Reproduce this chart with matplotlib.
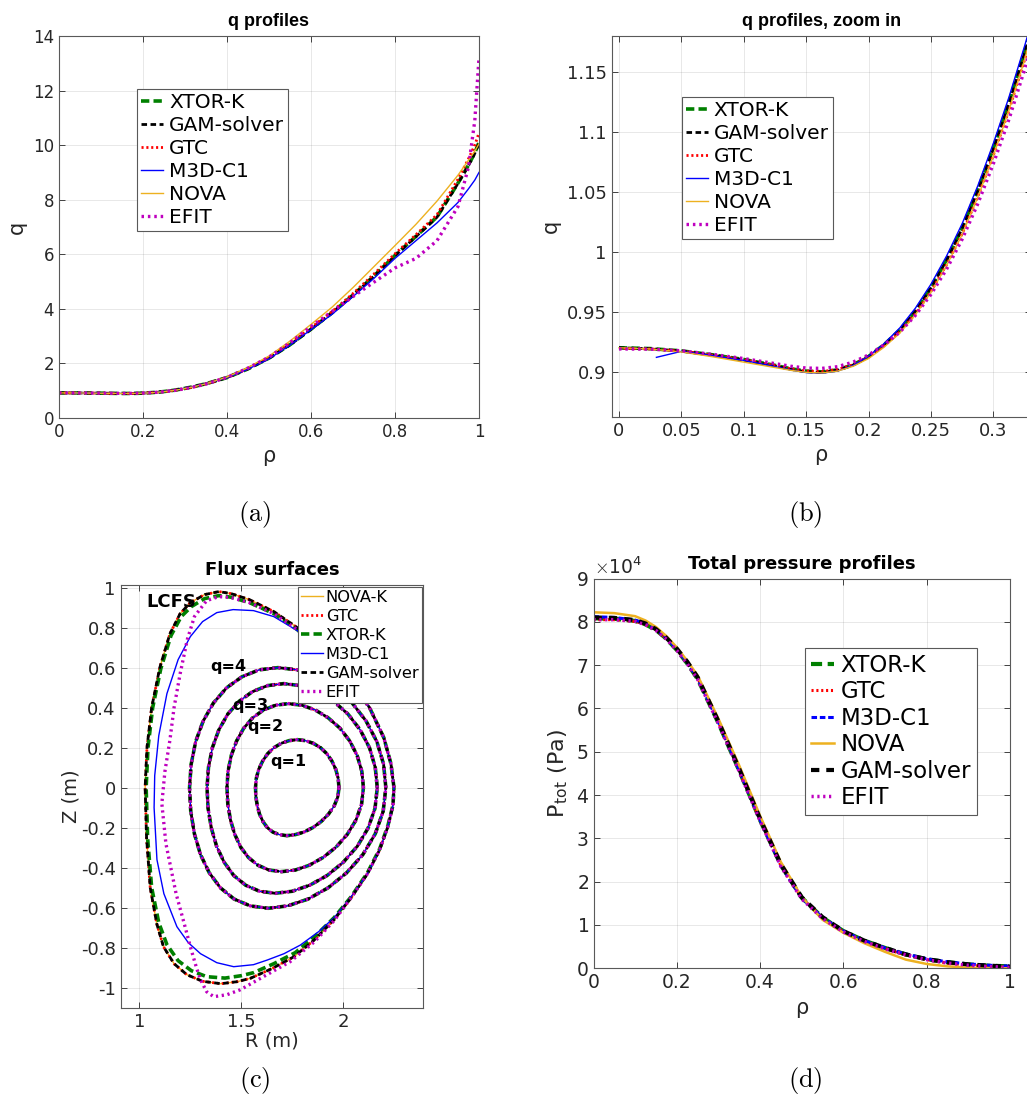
import numpy as np
import matplotlib
matplotlib.use("Agg")
import matplotlib.pyplot as plt
from matplotlib.ticker import FuncFormatter, MultipleLocator

plt.rcParams["font.family"] = ["DejaVu Sans"]
plt.rcParams["mathtext.fontset"] = "cm"
plt.rcParams["axes.unicode_minus"] = False
plt.rcParams["lines.scale_dashes"] = False

W, H = 1027, 1113

# ---------------- q profiles (a), (b) ----------------
rho_q = [0, 0.025, 0.05, 0.075, 0.1, 0.125, 0.1375, 0.15, 0.1625, 0.175, 0.1875, 0.2, 0.2125, 0.225,
         0.2375, 0.25, 0.2625, 0.275, 0.2875, 0.3, 0.3125, 0.325, 0.35, 0.4, 0.45, 0.5, 0.55, 0.6,
         0.65, 0.7, 0.75, 0.8, 0.85, 0.9, 0.95, 0.975, 0.99, 1.0]
q_xtor = [0.9200, 0.9193, 0.9174, 0.9141, 0.9102, 0.9053, 0.9025, 0.9005, 0.8999, 0.9015, 0.9057, 0.9127,
          0.9226, 0.9347, 0.9507, 0.9703, 0.9935, 1.0200, 1.0515, 1.0866, 1.1246, 1.1668, 1.2560, 1.4810,
          1.8020, 2.1950, 2.6850, 3.2550, 3.8550, 4.5050, 5.2050, 5.9550, 6.6600, 7.3700, 8.6100, 9.2700,
          9.7200, 10.1000]
q_gam = [0.9200, 0.9192, 0.9172, 0.9138, 0.9098, 0.9048, 0.9020, 0.9000, 0.8995, 0.9012, 0.9055, 0.9125,
         0.9225, 0.9345, 0.9505, 0.9700, 0.9930, 1.0195, 1.0510, 1.0860, 1.1240, 1.1660, 1.2550, 1.4800,
         1.8000, 2.1900, 2.6800, 3.2500, 3.8500, 4.5000, 5.2000, 5.9500, 6.6500, 7.3600, 8.6000, 9.2500,
         9.7000, 10.0700]
q_gtc = [0.9195, 0.9190, 0.9172, 0.9138, 0.9100, 0.9052, 0.9025, 0.9006, 0.9002, 0.9018, 0.9058, 0.9124,
         0.9218, 0.9332, 0.9482, 0.9670, 0.9892, 1.0150, 1.0460, 1.0805, 1.1180, 1.1600, 1.2500, 1.4850,
         1.8200, 2.2200, 2.7300, 3.3100, 3.9000, 4.5600, 5.2800, 6.0200, 6.7200, 7.4500, 8.7500, 9.5000,
         10.0000, 10.4500]
q_nova = [0.9200, 0.9190, 0.9165, 0.9125, 0.9080, 0.9035, 0.9012, 0.8995, 0.8990, 0.9005, 0.9045, 0.9110,
          0.9205, 0.9322, 0.9475, 0.9662, 0.9885, 1.0145, 1.0455, 1.0800, 1.1180, 1.1600, 1.2550, 1.5000,
          1.8500, 2.2700, 2.8200, 3.4300, 4.0600, 4.7800, 5.5500, 6.3200, 7.1000, 7.9500, 8.9000, 9.4500,
          9.7800, 10.0500]
q_efit = [0.9190, 0.9188, 0.9175, 0.9145, 0.9110, 0.9068, 0.9046, 0.9031, 0.9028, 0.9042, 0.9080, 0.9140,
          0.9225, 0.9330, 0.9470, 0.9645, 0.9855, 1.0105, 1.0400, 1.0735, 1.1105, 1.1520, 1.2450, 1.4900,
          1.8300, 2.2300, 2.7600, 3.3500, 3.9000, 4.4500, 4.9800, 5.5000, 5.8500, 6.5000, 7.7500, 9.2000,
          10.9000, 13.2000]
rho_m3d = [0.03, 0.05, 0.075, 0.1, 0.125, 0.1375, 0.15, 0.1625, 0.175, 0.1875, 0.2, 0.2125, 0.225,
           0.2375, 0.25, 0.2625, 0.275, 0.2875, 0.3, 0.3125, 0.325, 0.35, 0.4, 0.45, 0.5, 0.55, 0.6,
           0.65, 0.7, 0.75, 0.8, 0.85, 0.9, 0.95, 0.975, 0.99, 1.0]
q_m3d = [0.9120, 0.9170, 0.9135, 0.9095, 0.9043, 0.9015, 0.8993, 0.8988, 0.9005, 0.9052, 0.9130, 0.9235,
         0.9365, 0.9530, 0.9730, 0.9965, 1.0235, 1.0550, 1.0905, 1.1290, 1.1715, 1.2620, 1.4750, 1.7900,
         2.1700, 2.6700, 3.2400, 3.8000, 4.4500, 5.1200, 5.8500, 6.5000, 7.1500, 7.9000, 8.4000, 8.7200,
         9.0000]

# ---------------- flux surfaces (c), R and Z in m ----------------
q1_R = [1.980, 1.976, 1.964, 1.945, 1.920, 1.889, 1.853, 1.815, 1.775, 1.735, 1.697, 1.661, 1.630, 1.605,
        1.586, 1.574, 1.570, 1.572, 1.579, 1.590, 1.607, 1.628, 1.655, 1.687, 1.724, 1.765, 1.808, 1.851,
        1.892, 1.928, 1.956, 1.974, 1.980]
q1_Z = [0, 0.047, 0.092, 0.133, 0.170, 0.200, 0.222, 0.235, 0.240, 0.235, 0.222, 0.200, 0.170, 0.133,
        0.092, 0.047, 0, -0.047, -0.092, -0.133, -0.170, -0.200, -0.222, -0.235, -0.240, -0.235, -0.222,
        -0.200, -0.170, -0.133, -0.092, -0.047, 0]
q2_R = [2.100, 2.092, 2.069, 2.033, 1.985, 1.927, 1.864, 1.798, 1.732, 1.668, 1.609, 1.556, 1.512, 1.477,
        1.451, 1.435, 1.430, 1.434, 1.447, 1.468, 1.497, 1.535, 1.582, 1.637, 1.698, 1.765, 1.834, 1.902,
        1.966, 2.021, 2.064, 2.091, 2.100]
q2_Z = [0, 0.082, 0.161, 0.233, 0.297, 0.349, 0.388, 0.412, 0.420, 0.412, 0.388, 0.349, 0.297, 0.233,
        0.161, 0.082, 0, -0.082, -0.161, -0.233, -0.297, -0.349, -0.388, -0.412, -0.420, -0.412, -0.388,
        -0.349, -0.297, -0.233, -0.161, -0.082, 0]
q3_R = [2.168, 2.158, 2.130, 2.084, 2.024, 1.953, 1.874, 1.791, 1.708, 1.629, 1.555, 1.490, 1.434, 1.390,
        1.358, 1.339, 1.332, 1.337, 1.353, 1.379, 1.416, 1.463, 1.522, 1.590, 1.667, 1.750, 1.836, 1.922,
        2.001, 2.070, 2.123, 2.157, 2.168]
q3_Z = [0, 0.101, 0.199, 0.289, 0.368, 0.432, 0.480, 0.510, 0.520, 0.510, 0.480, 0.432, 0.368, 0.289,
        0.199, 0.101, 0, -0.103, -0.202, -0.293, -0.373, -0.439, -0.488, -0.518, -0.528, -0.518, -0.488,
        -0.439, -0.373, -0.293, -0.202, -0.103, 0]
q4_R = [2.210, 2.199, 2.166, 2.113, 2.044, 1.962, 1.871, 1.775, 1.680, 1.588, 1.503, 1.428, 1.364, 1.313,
        1.276, 1.254, 1.246, 1.252, 1.270, 1.300, 1.343, 1.398, 1.465, 1.544, 1.632, 1.728, 1.828, 1.926,
        2.017, 2.097, 2.158, 2.197, 2.210]
q4_Z = [0, 0.117, 0.230, 0.333, 0.424, 0.499, 0.554, 0.589, 0.600, 0.589, 0.554, 0.499, 0.424, 0.333,
        0.230, 0.117, 0, -0.118, -0.231, -0.335, -0.426, -0.501, -0.557, -0.591, -0.603, -0.591, -0.557,
        -0.501, -0.426, -0.335, -0.231, -0.118, 0]

lcfs_gam_R = [2.250, 2.235, 2.200, 2.130, 2.030, 1.900, 1.775, 1.660, 1.540, 1.450, 1.390, 1.320, 1.250, 1.200,
              1.150, 1.100, 1.060, 1.037, 1.028, 1.035, 1.053, 1.085, 1.118, 1.170, 1.233, 1.310, 1.400, 1.480,
              1.545, 1.650, 1.759, 1.860, 1.956, 2.040, 2.120, 2.180, 2.220, 2.245, 2.250]
lcfs_gam_Z = [0.000, 0.120, 0.250, 0.400, 0.540, 0.680, 0.800, 0.880, 0.940, 0.970, 0.980, 0.965, 0.925, 0.870,
              0.770, 0.600, 0.400, 0.200, 0.000, -0.250, -0.500, -0.680, -0.795, -0.880, -0.935, -0.968, -0.980,
              -0.970, -0.953, -0.905, -0.845, -0.760, -0.660, -0.550, -0.430, -0.310, -0.195, -0.090, 0.000]
lcfs_xtor_R = [2.250, 2.235, 2.200, 2.130, 2.030, 1.900, 1.775, 1.660, 1.540, 1.450, 1.390, 1.320, 1.255, 1.205,
               1.155, 1.105, 1.065, 1.042, 1.033, 1.040, 1.060, 1.095, 1.135, 1.190, 1.255, 1.330, 1.420, 1.500,
               1.560, 1.660, 1.765, 1.860, 1.956, 2.040, 2.120, 2.180, 2.220, 2.245, 2.250]
lcfs_xtor_Z = [0.000, 0.120, 0.250, 0.400, 0.540, 0.675, 0.790, 0.870, 0.925, 0.952, 0.960, 0.945, 0.905, 0.855,
               0.760, 0.595, 0.400, 0.200, 0.000, -0.250, -0.500, -0.675, -0.785, -0.865, -0.915, -0.945, -0.952,
               -0.940, -0.925, -0.880, -0.825, -0.745, -0.650, -0.545, -0.425, -0.305, -0.190, -0.088, 0.000]
lcfs_m3d_R = [2.250, 2.235, 2.200, 2.130, 2.030, 1.900, 1.775, 1.660, 1.560, 1.460, 1.380, 1.310, 1.250, 1.190,
              1.135, 1.095, 1.075, 1.072, 1.086, 1.120, 1.184, 1.240, 1.300, 1.380, 1.463, 1.560, 1.627, 1.710,
              1.790, 1.880, 1.956, 2.040, 2.120, 2.180, 2.220, 2.245, 2.250]
lcfs_m3d_Z = [0.000, 0.120, 0.250, 0.400, 0.540, 0.675, 0.785, 0.855, 0.885, 0.890, 0.875, 0.830, 0.755, 0.640,
              0.470, 0.260, 0.060, -0.100, -0.360, -0.530, -0.695, -0.775, -0.830, -0.875, -0.895, -0.885,
              -0.862, -0.830, -0.787, -0.720, -0.650, -0.545, -0.430, -0.310, -0.195, -0.090, 0.000]
lcfs_efit_R = [2.250, 2.235, 2.200, 2.130, 2.030, 1.900, 1.775, 1.660, 1.540, 1.450, 1.390, 1.330, 1.270, 1.235,
               1.200, 1.170, 1.150, 1.125, 1.110, 1.130, 1.180, 1.220, 1.250, 1.280, 1.300, 1.330, 1.365, 1.430,
               1.496, 1.600, 1.740, 1.860, 1.956, 2.040, 2.120, 2.180, 2.220, 2.245, 2.250]
lcfs_efit_Z = [0.000, 0.120, 0.250, 0.400, 0.540, 0.675, 0.790, 0.870, 0.925, 0.950, 0.955, 0.935, 0.855, 0.740,
               0.570, 0.400, 0.240, 0.080, -0.080, -0.280, -0.530, -0.680, -0.795, -0.900, -0.960, -1.020, -1.045,
               -1.035, -1.010, -0.950, -0.870, -0.770, -0.665, -0.550, -0.430, -0.310, -0.195, -0.090, 0.000]
surface_labels = ["LCFS", "q=4", "q=3", "q=2", "q=1"]
label_R = [1.155, 1.435, 1.545, 1.62, 1.73]
label_Z = [0.93, 0.605, 0.41, 0.305, 0.13]

# ---------------- total pressure (d), units of 1e4 Pa ----------------
rho_p = [0, 0.05, 0.1, 0.125, 0.15, 0.175, 0.2, 0.225, 0.25, 0.3, 0.35, 0.4, 0.45, 0.5, 0.55, 0.6,
         0.65, 0.7, 0.75, 0.8, 0.85, 0.9, 0.95, 1.0]
p_xtor = [8.08, 8.07, 8.02, 7.94, 7.81, 7.61, 7.35, 7.04, 6.68, 5.66, 4.56, 3.42, 2.38, 1.63, 1.17, 0.86,
          0.64, 0.47, 0.32, 0.21, 0.14, 0.09, 0.06, 0.045]
p_gtc = [8.05, 8.05, 8.01, 7.94, 7.81, 7.62, 7.36, 7.06, 6.70, 5.68, 4.57, 3.42, 2.37, 1.62, 1.16, 0.84,
         0.62, 0.45, 0.31, 0.20, 0.12, 0.07, 0.04, 0.02]
p_m3d = [8.12, 8.10, 8.04, 7.96, 7.83, 7.63, 7.37, 7.06, 6.70, 5.68, 4.57, 3.42, 2.37, 1.62, 1.17, 0.86,
         0.64, 0.47, 0.33, 0.22, 0.15, 0.10, 0.07, 0.05]
p_nova = [8.22, 8.20, 8.13, 8.03, 7.88, 7.67, 7.41, 7.10, 6.76, 5.76, 4.68, 3.52, 2.45, 1.65, 1.12, 0.82,
          0.58, 0.38, 0.20, 0.10, 0.045, 0.015, 0.004, 0.0]
p_gam = [8.10, 8.09, 8.04, 7.96, 7.83, 7.63, 7.38, 7.08, 6.72, 5.70, 4.60, 3.45, 2.40, 1.64, 1.18, 0.86,
         0.64, 0.47, 0.32, 0.21, 0.14, 0.09, 0.06, 0.04]
p_efit = [8.05, 8.05, 8.01, 7.93, 7.80, 7.60, 7.34, 7.03, 6.67, 5.65, 4.54, 3.40, 2.35, 1.60, 1.15, 0.84,
          0.62, 0.45, 0.31, 0.20, 0.12, 0.07, 0.04, 0.02]

GREEN = (0, 0.5, 0)
ORANGE = "#EDB120"

STYLE_Q = {
    "XTOR-K": dict(color=GREEN, lw=2.6, ls=(0, (6, 3))),
    "GAM-solver": dict(color="k", lw=2.0, ls=(0, (4, 2.5))),
    "GTC": dict(color="r", lw=2.0, ls=(0, (1.5, 2.0))),
    "M3D-C1": dict(color="b", lw=1.0, ls="-"),
    "NOVA": dict(color=ORANGE, lw=1.0, ls="-"),
    "EFIT": dict(color="m", lw=2.4, ls=(0, (1.8, 2.8))),
}


def add_ax(fig, left, top, right, bottom):
    return fig.add_axes([left / W, 1 - bottom / H, (right - left) / W, (bottom - top) / H])


def fmt(v, pos):
    return f"{round(v, 6) + 0.0:g}"


def matlab_style(ax, fs, yfmt=True):
    ax.grid(True, color="0.15", alpha=0.12, lw=0.6)
    ax.set_axisbelow(True)
    ax.tick_params(direction="in", top=True, right=True, labelsize=fs, colors="0.15",
                   length=4, width=0.6)
    for s in ax.spines.values():
        s.set_color("0.35")
        s.set_linewidth(0.8)
    ax.xaxis.set_major_formatter(FuncFormatter(fmt))
    if yfmt:
        ax.yaxis.set_major_formatter(FuncFormatter(fmt))


def style_legend(leg):
    fr = leg.get_frame()
    fr.set_edgecolor("0.35")
    fr.set_linewidth(0.8)
    fr.set_alpha(1)


def plot_q(ax):
    for name, r, q in [("XTOR-K", rho_q, q_xtor), ("GAM-solver", rho_q, q_gam), ("GTC", rho_q, q_gtc),
                       ("M3D-C1", rho_m3d, q_m3d), ("NOVA", rho_q, q_nova), ("EFIT", rho_q, q_efit)]:
        st = STYLE_Q[name]
        ax.plot(r, q, color=st["color"], lw=st["lw"], linestyle=st["ls"], label=name,
                dash_capstyle="butt")


fig = plt.figure(figsize=(W / 100, H / 100), dpi=100)

# (a)
ax1 = add_ax(fig, 59, 36, 479, 418)
plot_q(ax1)
ax1.set_xlim(0, 1)
ax1.set_ylim(0, 14)
ax1.xaxis.set_major_locator(MultipleLocator(0.2))
ax1.yaxis.set_major_locator(MultipleLocator(2))
matlab_style(ax1, 12)
ax1.set_title("q profiles", fontweight="bold", fontsize=13, pad=7, family="Liberation Sans")
ax1.set_xlabel("ρ", fontsize=15, color="0.15")
ax1.set_ylabel("q", fontsize=15, color="0.15")
leg = ax1.legend(loc="upper left", bbox_to_anchor=(0.186, 0.862), borderaxespad=0, fontsize=14.5,
                 handlelength=1.1, handletextpad=0.3, labelspacing=0.2, borderpad=0.2, fancybox=False)
style_legend(leg)

# (b)
ax2 = add_ax(fig, 611.5, 36, 1030.8, 416.7)
plot_q(ax2)
ax2.set_xlim(-0.006, 0.33)
ax2.set_ylim(0.8625, 1.18)
ax2.xaxis.set_major_locator(MultipleLocator(0.05))
ax2.yaxis.set_major_locator(MultipleLocator(0.05))
matlab_style(ax2, 13)
ax2.set_title("q profiles, zoom in", fontweight="bold", fontsize=13, pad=7, family="Liberation Sans")
ax2.set_xlabel("ρ", fontsize=15, color="0.15")
ax2.set_ylabel("q", fontsize=15, color="0.15")
leg = ax2.legend(loc="upper left", bbox_to_anchor=(0.167, 0.84), borderaxespad=0, fontsize=14.5,
                 handlelength=1.1, handletextpad=0.3, labelspacing=0.2, borderpad=0.2, fancybox=False)
style_legend(leg)

# (c)
ax3 = add_ax(fig, 120.7, 585, 423.3, 1007.7)
surfaces = [(q1_R, q1_Z), (q2_R, q2_Z), (q3_R, q3_Z), (q4_R, q4_Z)]
lcfs = {
    "NOVA-K": (lcfs_gam_R, lcfs_gam_Z),
    "GTC": (lcfs_gam_R, lcfs_gam_Z),
    "XTOR-K": (lcfs_xtor_R, lcfs_xtor_Z),
    "M3D-C1": (lcfs_m3d_R, lcfs_m3d_Z),
    "GAM-solver": (lcfs_gam_R, lcfs_gam_Z),
    "EFIT": (lcfs_efit_R, lcfs_efit_Z),
}
STYLE_C = {
    "NOVA-K": dict(color=ORANGE, lw=1.0, ls="-"),
    "GTC": dict(color="r", lw=2.0, ls=(0, (1.5, 2.0))),
    "XTOR-K": dict(color=GREEN, lw=2.6, ls=(0, (6, 3))),
    "M3D-C1": dict(color="b", lw=1.0, ls="-"),
    "GAM-solver": dict(color="k", lw=2.0, ls=(0, (4, 2.5))),
    "EFIT": dict(color="m", lw=2.4, ls=(0, (1.6, 2.6))),
}
for name in ["NOVA-K", "GTC", "XTOR-K", "M3D-C1", "GAM-solver", "EFIT"]:
    st = STYLE_C[name]
    kw = dict(color=st["color"], lw=st["lw"], linestyle=st["ls"], dash_capstyle="butt")
    for R, Z in surfaces:
        ax3.plot(R, Z, **kw)
    ax3.plot(lcfs[name][0], lcfs[name][1], label=name, **kw)
ax3.set_xlim(0.908, 2.394)
ax3.set_ylim(-1.1, 1.013)
ax3.set_xticks([1, 1.5, 2])
ax3.yaxis.set_major_locator(MultipleLocator(0.2))
matlab_style(ax3, 13)
ax3.set_title("Flux surfaces", fontweight="bold", fontsize=13, pad=7)
ax3.set_xlabel("R (m)", fontsize=14, color="0.15", labelpad=1)
ax3.set_ylabel("Z (m)", fontsize=14, color="0.15", labelpad=0)
for txt, r, z in zip(surface_labels, label_R, label_Z):
    ax3.text(r, z, txt, fontweight="bold", fontsize=13 if txt == "LCFS" else 11.5,
             ha="center", va="center")
leg = ax3.legend(loc="upper right", borderaxespad=0.1, fontsize=11.7, handlelength=1.35,
                 handletextpad=0.15, labelspacing=0.25, borderpad=0.2, fancybox=False)
style_legend(leg)

# (d)
ax4 = add_ax(fig, 593.5, 578.5, 1010, 968.3)
STYLE_D = {
    "XTOR-K": dict(color=GREEN, lw=3.0, ls=(0, (8, 4))),
    "GTC": dict(color="r", lw=2.2, ls=(0, (1.5, 2.0))),
    "M3D-C1": dict(color="b", lw=2.2, ls=(0, (4, 2))),
    "NOVA": dict(color=ORANGE, lw=1.8, ls="-"),
    "GAM-solver": dict(color="k", lw=3.0, ls=(0, (6, 5))),
    "EFIT": dict(color="m", lw=2.5, ls=(0, (1.6, 2.6))),
}
for name, p in [("XTOR-K", p_xtor), ("GTC", p_gtc), ("M3D-C1", p_m3d), ("NOVA", p_nova),
                ("GAM-solver", p_gam), ("EFIT", p_efit)]:
    st = STYLE_D[name]
    ax4.plot(rho_p, np.array(p) * 1e4, color=st["color"], lw=st["lw"], linestyle=st["ls"],
             label=name, dash_capstyle="butt")
ax4.set_xlim(0, 1)
ax4.set_ylim(0, 9e4)
ax4.xaxis.set_major_locator(MultipleLocator(0.2))
ax4.yaxis.set_major_locator(MultipleLocator(1e4))
matlab_style(ax4, 13.5, yfmt=False)
ax4.ticklabel_format(axis="y", style="sci", scilimits=(4, 4), useMathText=True)
ax4.yaxis.get_offset_text().set_fontsize(13.5)
ax4.yaxis.get_offset_text().set_color("0.15")
ax4.set_title("Total pressure profiles", fontweight="bold", fontsize=13, pad=7)
ax4.set_xlabel("ρ", fontsize=15, color="0.15")
ax4.set_ylabel(r"P$_{\mathregular{tot}}$ (Pa)", fontsize=16, color="0.15")
leg = ax4.legend(loc="upper left", bbox_to_anchor=(0.508, 0.821), borderaxespad=0, fontsize=16.5,
                 handlelength=1.0, handletextpad=0.3, labelspacing=0.15, borderpad=0.25, fancybox=False)
style_legend(leg)

# panel captions
for lab, x, y in [("(a)", 255, 515), ("(b)", 805, 515), ("(c)", 255, 1080), ("(d)", 805, 1080)]:
    fig.text(x / W, 1 - y / H, r"$\mathrm{" + lab + "}$", fontsize=19, ha="center", va="center")

fig.savefig("out.png", dpi=100)
